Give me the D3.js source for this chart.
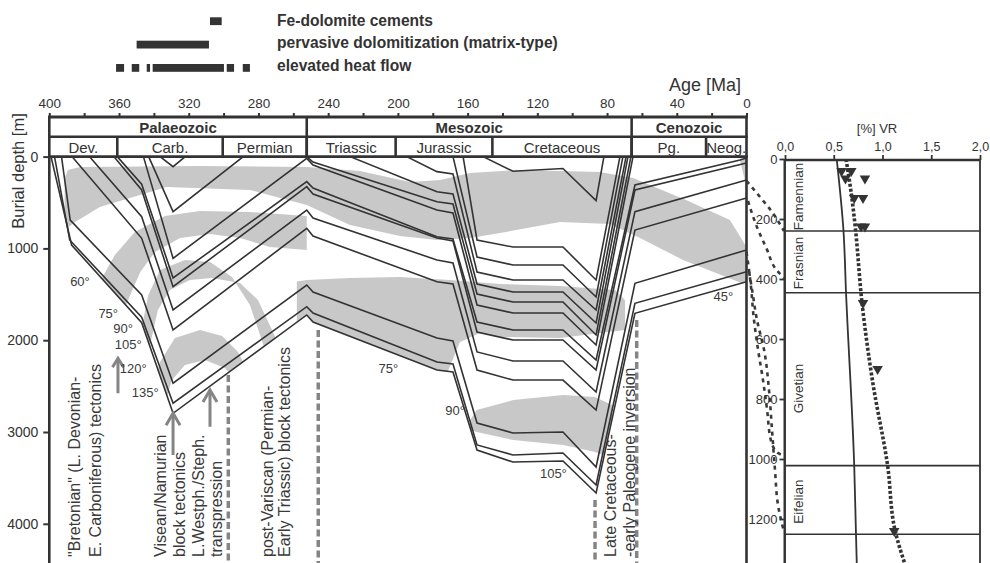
<!DOCTYPE html>
<html>
<head>
<meta charset="utf-8">
<script src="https://cdn.jsdelivr.net/npm/d3@7/dist/d3.min.js"></script>
<style>
html,body{margin:0;padding:0;background:#fff;}
svg{display:block;font-family:"Liberation Sans",Arial,Helvetica,sans-serif;}
</style>
</head>
<body>
<svg id="chart" width="990" height="563"></svg>
<script>
// ================= DATA =================
const ageTicks = d3.range(0, 401, 20);
const depthTicks = [0, 1000, 2000, 3000, 4000];
const eraNames = ["Palaeozoic", "Mesozoic", "Cenozoic"];
const eraBounds = [400, 252.3, 65.9, 0];
const periodNames = ["Dev.", "Carb.", "Permian", "Triassic", "Jurassic", "Cretaceous", "Pg.", "Neog."];
const periodBounds = [400, 361, 300.5, 252.3, 201.3, 145.8, 65.9, 23.2, 0];

const legendLabels = ["Fe-dolomite cements", "pervasive dolomitization (matrix-type)", "elevated heat flow"];
const feDolomite = [[307.8, 301.1]];
const pervasiveDolomitization = [[349.9, 308.4]];
const elevatedHeatFlow = [[361.7, 357.1], [352.7, 348.4], [344.1, 342.2], [340.7, 299.8], [298.2, 294.0], [289.0, 284.9]];

// burial curves: [age Ma, depth m]
const horizonP1 = [[399,0],[387.2,963],[347,1810],[329,2796],[252.3,1725],[248.7,1802],[177.6,2325],[168.4,2346],[154.6,3197],[134,3327],[105.3,3316],[86.3,3664],[64,1707],[0,1363]];
const horizonP2 = [[397,0],[388.3,908],[347,1750],[329,2687],[252.3,1635],[248.7,1704],[177.6,2237],[168.4,2259],[154.6,3141],[134,3250],[105.3,3229],[86.3,3577],[64,1598],[0,1254]];
const horizonP3 = [[393,0],[388,691],[347,1508],[329,2469],[252.3,1399],[248.7,1475],[177.6,1976],[168.4,2009],[154.6,2902],[134,3011],[105.3,3000],[86.3,3381],[64,1380],[0,1017]];
const horizonP4 = [[387,0],[347,890],[329,1889],[252.3,781],[248.7,865],[177.6,1363],[168.4,1388],[154.6,2325],[134,2434],[105.3,2434],[86.3,2761],[64,800],[0,451]];
const horizonP5 = [[377,0],[347,655],[329,1671],[252.3,582],[248.7,669],[177.6,1126],[168.4,1159],[154.6,2128],[134,2226],[105.3,2226],[86.3,2564],[64,600],[0,255]];
const horizonP6 = [[363,0],[347,364],[329,1417],[252.3,328],[248.7,407],[177.6,887],[168.4,919],[154.6,1911],[134,1998],[105.3,1998],[86.3,2325],[64,364],[0,70]];
const horizonP7 = [[361,0],[347,300],[329,1322],[252.3,273],[248.7,342],[177.6,873],[168.4,898],[154.6,1802],[134,1889],[105.3,1889],[86.3,2216],[64,309],[3.7,37],[0,15]];
const horizonP8 = [[346,0],[329,1108],[252.3,20],[248.7,92],[177.6,582],[168.4,614],[154.6,1617],[134,1704],[105.3,1704],[86.3,2052],[65.1,0]];
const horizonP9 = [[343,0],[329,600],[288.7,0]];
const horizonP10 = [[336.5,0],[329,110],[322,0]];
const horizonM0 = [[252.3,0],[248.7,60],[177.6,491],[168.4,516],[154.6,1497],[134,1584],[105.3,1584],[86.3,1943],[66.3,0]];
const horizonT1 = [[227.5,0],[177.6,382],[168.4,407],[154.6,1388],[134,1475],[105.3,1475],[86.3,1813],[68,0]];
const horizonT2 = [[195,0],[177.6,164],[168.4,190],[154.6,1257],[134,1344],[105.3,1344],[86.3,1671],[69.1,0]];
const horizonJ1 = [[168.4,0],[154.6,1094],[134,1181],[105.3,1181],[86.3,1529],[70.9,0]];
const horizonJ2 = [[162.6,0],[154.6,908],[134,985],[105.3,985],[86.3,1344],[72.6,0]];
const horizonK1 = [[151.2,0],[134,160],[105.3,130],[86.3,480],[81.8,0]];
const horizons = [horizonP1, horizonP2, horizonP3, horizonP4, horizonP5, horizonP6, horizonP7, horizonP8, horizonP9, horizonP10, horizonM0, horizonT1, horizonT2, horizonJ1, horizonJ2, horizonK1];

// isotherm bands (grey) [age, depth]
const bandTop = [[391.2,233],[389.3,146],[382.4,113],[313.5,102],[252.3,113],[221.8,157],[193.1,277],[175.8,255],[158.6,179],[130,146],[84.1,168],[65.1,233],[34.7,473],[9.5,691],[0,985],[0,1399],[36.4,1126],[61.1,887],[78.3,734],[107,712],[141.4,832],[158.6,887],[177.6,908],[198.8,865],[227.5,745],[252.3,527],[284.9,364],[332.7,331],[371,549],[385.2,712],[391.2,800]];
const bandArchB = [[373.9,1453],[370.4,1344],[362.4,1072],[350.9,821],[333.7,647],[313.5,593],[284.9,603],[252.3,647],[252.3,1017],[273.4,985],[290.6,887],[307.8,843],[325,887],[339.4,1039],[347.8,1257],[354.8,1562],[359.4,1780]];
const bandArchC = [[347.8,1943],[343.2,1508],[336.5,1235],[322.2,1126],[307.8,1148],[295.2,1312],[284.9,1617],[278.1,1998],[274.4,2216],[264.6,2216],[272.2,1889],[280.3,1562],[290.6,1377],[306.7,1322],[319.3,1344],[330.8,1453],[337.7,1671],[342.2,2052],[344.5,2325]];
const bandArchD = [[341.6,2597],[336.5,2237],[327.9,1976],[313.5,1889],[300.9,1954],[291.7,2128],[284.9,2379],[290.6,2488],[299.2,2303],[310.7,2216],[322.2,2270],[329.6,2434],[333.1,2652]];
const bandMesoB = [[258,1360],[252.3,1344],[227.5,1322],[198.8,1312],[170.1,1344],[141.4,1388],[107,1410],[75.4,1453],[69.7,1562],[69.7,1889],[107,1976],[141.4,1965],[152.9,1921],[164.4,2019],[175.8,2543],[258,2543]];
const bandMesoC = [[158.6,2870],[154.8,2761],[133.8,2652],[105.1,2597],[86.9,2619],[77.2,2706],[77.2,3283],[86.9,3218],[105.1,3141],[133.8,3088],[154.8,3000],[158.6,2978]];
const bandCorner = [[4,20],[0,20],[0,330]];
const bands = [bandTop, bandArchB, bandArchC, bandArchD, bandMesoB, bandMesoC, bandCorner];

const isoLabels = ["60°", "75°", "90°", "105°", "120°", "135°", "75°", "90°", "105°", "45°"];
const isoAge =    [382.4, 366.2, 357.6, 354.7, 351.8, 345.0, 205.5, 167.2, 110.8, 13.3];
const isoDepth =  [1363, 1707, 1870, 2052, 2306, 2572, 2306, 2761, 3450, 1526];

// tectonic event markers
const arrowAge = [360.6, 329.0, 307.8];
const arrowFrom = [2578, 3250, 2942];
const arrowTo = [2197, 2796, 2542];
const eventLineAge = [297.3, 245.7, 86.9, 63.0];
const eventLineTop = [2380, 1890, 3741, 1780];
const eventText = ["\"Bretonian\" (L. Devonian-", "E. Carboniferous) tectonics", "Visean/Namurian", "block tectonics",
  "L.Westph./Steph.", "transpression", "post-Variscan (Permian-", "Early Triassic) block tectonics",
  "Late Cretaceous-", "-early Paleogene inversion"];
const eventTextAge = [382.1, 370.6, 333.0, 322.2, 311.5, 301.2, 271.7, 261.9, 74.7, 64.0];
const eventTextDepth = 4361;

// vitrinite reflectance panel
const vrTicks = [0, 0.5, 1.0, 1.5, 2.0];
const vrDepthTicks = [0, 200, 400, 600, 800, 1000, 1200];
const stageNames = ["Famennian", "Frasnian", "Givetian", "Eifelian"];
const stageCenter = [125, 347, 765, 1142];
const stageBounds = [240, 446, 1022, 1251];
const vrModelDepth = [0, 240, 446, 1023, 1250, 1360];
const vrModel = [0.53, 0.60, 0.626, 0.71, 0.728, 0.737];
const vrTrendDepth = [0, 125, 225, 480, 745, 1023, 1237, 1360];
const vrTrend = [0.626, 0.684, 0.72, 0.79, 0.90, 1.053, 1.128, 1.24];
const vrMeasured = [0.58, 0.62, 0.68, 0.82, 0.71, 0.80, 0.78, 0.82, 0.80, 0.95, 1.12];
const vrMeasuredDepth = [40, 65, 40, 65, 130, 130, 225, 225, 480, 700, 1240];

// connector lines between burial plot (t=0) and VR log (t=1): [t, log depth]
const linkA = [[0,73],[0.35,125],[0.7,180],[1,240]];
const linkB = [[0.04,140],[0.28,227],[0.55,303],[0.76,363],[1,397]];
const linkC = [[0,310],[0.1,403],[0.2,537],[0.31,637],[0.44,737],[0.55,837],[0.65,937],[0.81,977],[1,990]];
const linkD = [[0.07,377],[0.15,437],[0.28,537],[0.47,637],[0.6,770],[0.68,903],[0.76,1037],[0.84,1153],[1,1243]];
const links = [linkA, linkB, linkC, linkD];

// ================= DRAW =================
const dark = "#333", grey = "#c8c8c8", evGrey = "#858585";
const svg = d3.select("#chart");
const x = d3.scaleLinear().domain([400, 0]).range([49.3, 746.5]);
const y = d3.scaleLinear().domain([0, 1000]).range([156.6, 248.4]);
const vx = d3.scaleLinear().domain([0, 2]).range([785, 980]);
const vy = d3.scaleLinear().domain([0, 1000]).range([159, 459]);
const cx = d3.scaleLinear().domain([0, 1]).range([746.5, 784]);
const yTop = 117, yMid = 136.7, yBot = y(0), yEnd = 563;
const intFmt = d3.format("d");

const defs = svg.append("defs");
defs.append("clipPath").attr("id", "plotClip").append("rect")
  .attr("x", x(400)).attr("y", yBot).attr("width", x(0) - x(400)).attr("height", yEnd - yBot);
const clipPoly = horizonP1.concat([[0, -200], [400, -200], [400, 0]]);
defs.append("clipPath").attr("id", "sedClip").append("path")
  .attr("d", d3.line().x(d => x(d[0])).y(d => y(d[1])).curve(d3.curveLinearClosed)(clipPoly));

// legend
const legendRows = [feDolomite, pervasiveDolomitization, elevatedHeatFlow];
const legendBarY = [17.3, 40.7, 64];
const legendTextY = [26, 47.8, 71];
legendRows.forEach((row, i) => {
  svg.append("g").selectAll("rect").data(row).join("rect")
    .attr("x", d => x(d[0])).attr("width", d => x(d[1]) - x(d[0]))
    .attr("y", legendBarY[i]).attr("height", 7.8).attr("fill", dark);
  svg.append("text").attr("x", 277).attr("y", legendTextY[i]).text(legendLabels[i])
    .attr("font-size", 15.6).attr("font-weight", "bold").attr("fill", dark);
});

// plot body
const plot = svg.append("g").attr("clip-path", "url(#plotClip)");
const bandG = plot.append("g").attr("clip-path", "url(#sedClip)");
bandG.selectAll("path").data(bands).join("path")
  .attr("d", d3.line().x(d => x(d[0])).y(d => y(d[1])).curve(d3.curveLinearClosed))
  .attr("fill", grey);

const lineGen = d3.line().x(d => x(d[0])).y(d => y(d[1]));
plot.append("g").selectAll("path").data(horizons).join("path")
  .attr("d", lineGen).attr("fill", "none").attr("stroke", dark).attr("stroke-width", 1.6)
  .attr("stroke-linejoin", "miter");

// event dashed verticals
plot.append("g").selectAll("line").data(eventLineAge).join("line")
  .attr("x1", d => x(d)).attr("x2", d => x(d))
  .attr("y1", (d, i) => y(eventLineTop[i])).attr("y2", yEnd)
  .attr("stroke", evGrey).attr("stroke-width", 3.5).attr("stroke-dasharray", "7,3.5");

// arrows
const arrG = plot.append("g").attr("stroke", evGrey).attr("stroke-width", 3).attr("fill", "none");
arrowAge.forEach((a, i) => {
  const ax = x(a), y0 = y(arrowFrom[i]), y1 = y(arrowTo[i]);
  const hw = i === 0 ? 5.5 : 7, hh = i === 0 ? 9 : 12;
  arrG.append("line").attr("x1", ax).attr("x2", ax).attr("y1", y0).attr("y2", y1 + 1);
  arrG.append("polyline").attr("points", `${ax - hw},${y1 + hh} ${ax},${y1} ${ax + hw},${y1 + hh}`);
});

// isotherm labels
plot.append("g").selectAll("text").data(isoLabels).join("text")
  .attr("x", (d, i) => x(isoAge[i])).attr("y", (d, i) => y(isoDepth[i]) + 4.5)
  .attr("text-anchor", "middle").attr("font-size", 13).attr("fill", "#3a3a3a").text(d => d);

// rotated event labels
plot.append("g").selectAll("text").data(eventText).join("text")
  .attr("transform", (d, i) => `translate(${x(eventTextAge[i])},${y(eventTextDepth)}) rotate(-90)`)
  .attr("font-size", 16).attr("fill", "#3a3a3a").text(d => d);

// frame of burial plot
svg.append("line").attr("x1", x(400)).attr("x2", x(400)).attr("y1", yTop).attr("y2", yEnd)
  .attr("stroke", dark).attr("stroke-width", 2.6);
svg.append("line").attr("x1", x(0)).attr("x2", x(0)).attr("y1", yTop).attr("y2", yEnd)
  .attr("stroke", dark).attr("stroke-width", 2.6);

// header rows (eras / periods)
const hdr = svg.append("g");
[yTop, yMid, yBot].forEach((yy, i) => {
  hdr.append("line").attr("x1", x(400) - 1.3).attr("x2", x(0) + 1.3).attr("y1", yy).attr("y2", yy)
    .attr("stroke", dark).attr("stroke-width", i === 0 ? 3 : 2.6);
});
hdr.selectAll("line.era").data(eraBounds.slice(1, -1)).join("line").attr("class", "era")
  .attr("x1", d => x(d)).attr("x2", d => x(d)).attr("y1", yTop).attr("y2", yBot)
  .attr("stroke", dark).attr("stroke-width", 2.6);
hdr.selectAll("line.per").data(periodBounds.slice(1, -1)).join("line").attr("class", "per")
  .attr("x1", d => x(d)).attr("x2", d => x(d)).attr("y1", yMid).attr("y2", yBot)
  .attr("stroke", dark).attr("stroke-width", 2.6);
hdr.selectAll("text.era").data(eraNames).join("text").attr("class", "era")
  .attr("x", (d, i) => (x(eraBounds[i]) + x(eraBounds[i + 1])) / 2).attr("y", 132.5)
  .attr("text-anchor", "middle").attr("font-size", 15).attr("font-weight", "bold").attr("fill", dark).text(d => d);
hdr.selectAll("text.per").data(periodNames).join("text").attr("class", "per")
  .attr("x", (d, i) => (x(periodBounds[i]) + x(periodBounds[i + 1])) / 2).attr("y", 152.5)
  .attr("text-anchor", "middle").attr("font-size", 15).attr("fill", dark).text(d => d);

// top age axis
const topAxis = svg.append("g").attr("transform", `translate(0,${yTop})`)
  .call(d3.axisTop(x).tickValues(ageTicks).tickSize(4).tickPadding(5)
    .tickFormat(d => d % 40 === 0 ? intFmt(d) : ""));
topAxis.select(".domain").remove();
topAxis.selectAll("line").attr("stroke", dark).attr("stroke-width", 2);
topAxis.selectAll("text").attr("font-size", 13.5).attr("fill", dark).attr("font-family", null);
svg.append("text").attr("x", 705).attr("y", 91).attr("text-anchor", "middle")
  .attr("font-size", 18).attr("fill", dark).text("Age [Ma]");

// left depth axis
const leftAxis = svg.append("g").attr("transform", `translate(${x(400)},0)`)
  .call(d3.axisLeft(y).tickValues(depthTicks).tickSize(6).tickPadding(5).tickFormat(intFmt));
leftAxis.select(".domain").remove();
leftAxis.selectAll("line").attr("stroke", dark).attr("stroke-width", 2);
leftAxis.selectAll("text").attr("font-size", 14).attr("fill", dark).attr("font-family", null);
svg.append("text").attr("transform", "translate(23.5,171) rotate(-90)").attr("text-anchor", "middle")
  .attr("font-size", 16.5).attr("fill", dark).text("Burial depth [m]");

// connectors
svg.append("g").selectAll("path").data(links).join("path")
  .attr("d", d3.line().x(d => cx(d[0])).y(d => vy(d[1])).curve(d3.curveMonotoneY))
  .attr("fill", "none").attr("stroke", "#3a3a3a").attr("stroke-width", 2.6).attr("stroke-dasharray", "4,4.5");

// VR panel
const vr = svg.append("g");
vr.append("rect").attr("x", vx(0)).attr("y", vy(0) + 1).attr("width", vx(2) - vx(0)).attr("height", yEnd - vy(0))
  .attr("fill", "none").attr("stroke", dark).attr("stroke-width", 1.8);
vr.append("line").attr("x1", vx(0)).attr("x2", vx(2)).attr("y1", vy(0) + 1).attr("y2", vy(0) + 1)
  .attr("stroke", dark).attr("stroke-width", 2.6);
vr.selectAll("line.st").data(stageBounds).join("line").attr("class", "st")
  .attr("x1", vx(0)).attr("x2", vx(2)).attr("y1", d => vy(d)).attr("y2", d => vy(d))
  .attr("stroke", dark).attr("stroke-width", 1.6);
vr.selectAll("text.st").data(stageNames).join("text").attr("class", "st")
  .attr("transform", (d, i) => `translate(803,${vy(stageCenter[i])}) rotate(-90)`)
  .attr("text-anchor", "middle").attr("font-size", 13.5).attr("fill", dark).text(d => d);
const vrAxis = vr.append("g").attr("transform", `translate(0,${vy(0) + 1})`)
  .call(d3.axisTop(vx).tickValues(vrTicks).tickSize(5).tickPadding(4).tickFormat(d => d3.format(".1f")(d).replace(".", ",")));
vrAxis.select(".domain").remove();
vrAxis.selectAll("line").attr("stroke", dark).attr("stroke-width", 1.8);
vrAxis.selectAll("text").attr("font-size", 12.5).attr("fill", dark).attr("font-family", null);
vr.append("text").attr("x", 877).attr("y", 133).attr("text-anchor", "middle")
  .attr("font-size", 13).attr("fill", dark).text("[%] VR");
const vdAxis = vr.append("g").attr("transform", `translate(${vx(0) - 0.5},0)`)
  .call(d3.axisLeft(vy).tickValues(vrDepthTicks).tickSize(5).tickPadding(2).tickFormat(intFmt));
vdAxis.select(".domain").attr("stroke", dark).attr("stroke-width", 2);
vdAxis.selectAll("line").attr("stroke", dark).attr("stroke-width", 1.8);
vdAxis.selectAll("text").attr("font-size", 13).attr("fill", dark).attr("font-family", null);
vdAxis.select(".domain").attr("d", `M0,${vy(0)}V${yEnd}`);

defs.append("clipPath").attr("id", "vrClip").append("rect")
  .attr("x", vx(0)).attr("y", vy(0)).attr("width", vx(2) - vx(0)).attr("height", yEnd - vy(0));
const vrBody = vr.append("g").attr("clip-path", "url(#vrClip)");
vrBody.append("path").datum(vrModel.map((v, i) => [v, vrModelDepth[i]]))
  .attr("d", d3.line().x(d => vx(d[0])).y(d => vy(d[1])).curve(d3.curveMonotoneY))
  .attr("fill", "none").attr("stroke", dark).attr("stroke-width", 1.8);
vrBody.append("path").datum(vrTrend.map((v, i) => [v, vrTrendDepth[i]]))
  .attr("d", d3.line().x(d => vx(d[0])).y(d => vy(d[1])).curve(d3.curveMonotoneY))
  .attr("fill", "none").attr("stroke", dark).attr("stroke-width", 3.6).attr("stroke-dasharray", "3,2");
vr.append("g").selectAll("path").data(vrMeasured).join("path")
  .attr("d", d3.symbol(d3.symbolTriangle, 48))
  .attr("transform", (d, i) => `translate(${vx(d)},${vy(vrMeasuredDepth[i])}) rotate(180)`)
  .attr("fill", dark);
</script>
</body>
</html>
